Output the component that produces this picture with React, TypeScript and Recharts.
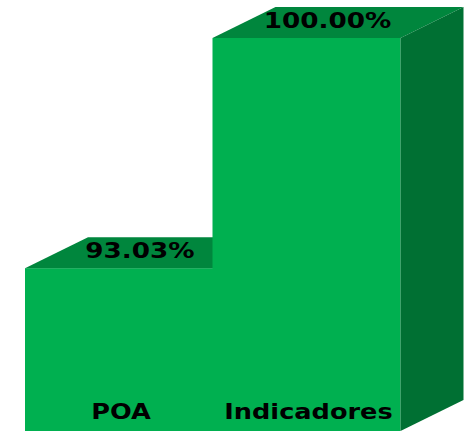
import { BarChart, Bar, XAxis, YAxis, LabelList } from 'recharts'

const categories = ['POA', 'Indicadores']
const values = [93.03, 100]

const data = categories.map((name, i) => ({ name, value: values[i] }))

const FRONT = '#00B050'
const TOP = '#00863D'
const SIDE = '#007033'
const DX = 63
const DY = 31

function Box3D(props: any) {
  const { x, y, width, height } = props
  const r = x + width
  const b = y + height
  return (
    <g>
      <rect x={x} y={y} width={width} height={height} fill={FRONT} />
      <polygon points={`${x},${y} ${x + DX},${y - DY} ${r + DX},${y - DY} ${r},${y}`} fill={TOP} />
      <polygon points={`${r},${y} ${r + DX},${y - DY} ${r + DX},${b - DY} ${r},${b}`} fill={SIDE} />
    </g>
  )
}

const textStyle = { fontFamily: 'DejaVu Sans', fontWeight: 'bold', fontSize: 21 } as const

function ValueLabel(props: any) {
  const { x, y, width, value } = props
  const cx = x + width / 2 + 21
  const cy = y - 17
  return (
    <text
      x={0} y={0} textAnchor="middle" dominantBaseline="central" fill="#000" style={textStyle}
      transform={`translate(${cx},${cy}) scale(1.25,1)`}
    >
      {value.toFixed(2)}%
    </text>
  )
}

function NameLabel(props: any) {
  const { x, y, width, height, value } = props
  const cx = x + width / 2 + 2
  const cy = y + height - 19
  return (
    <text
      x={0} y={0} textAnchor="middle" dominantBaseline="central" fill="#000" style={textStyle}
      transform={`translate(${cx},${cy}) scale(1.22,1)`}
    >
      {value}
    </text>
  )
}

export default function App() {
  return (
    <div style={{ position: 'absolute', left: 0, top: 0, background: '#fff' }}>
      <BarChart
        width={465}
        height={431}
        data={data}
        margin={{ top: 38, right: 65, left: 25, bottom: 0 }}
        barCategoryGap={0}
      >
        <XAxis dataKey="name" hide />
        <YAxis type="number" domain={[88.1, 100]} hide />
        <Bar dataKey="value" shape={<Box3D />} isAnimationActive={false}>
          <LabelList dataKey="value" content={<ValueLabel />} />
          <LabelList dataKey="name" content={<NameLabel />} />
        </Bar>
      </BarChart>
    </div>
  )
}
